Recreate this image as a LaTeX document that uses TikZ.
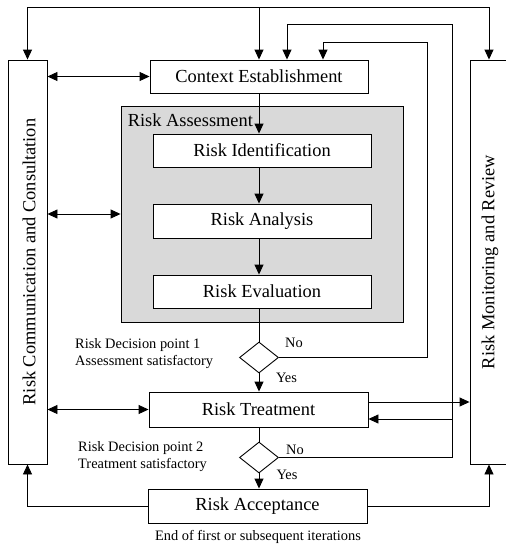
\documentclass[tikz,border=0pt]{standalone}
\usepackage{fontspec}
\setmainfont{Liberation Serif}
\usetikzlibrary{arrows.meta,shapes.geometric}
\definecolor{raGray}{RGB}{217,217,217}
\newcommand{\mainfs}{\fontsize{18.4}{21}\selectfont}
\newcommand{\smallfs}{\fontsize{14.4}{17}\selectfont}
\tikzset{
  ln/.style={line width=0.9pt},
  arr/.style={ln,-{Triangle[length=10pt,width=9pt]}},
  dar/.style={ln,{Triangle[length=10pt,width=9pt]}-{Triangle[length=10pt,width=9pt]}},
  box/.style={draw,ln,fill=white,inner sep=0pt,font=\mainfs},
  dia/.style={draw,ln,fill=white,diamond,inner sep=0pt,minimum width=39pt,minimum height=31pt},
  lbl/.style={inner sep=0pt,font=\smallfs},
}
\begin{document}
\begin{tikzpicture}[x=1pt,y=-1pt]
\useasboundingbox (0,0) rectangle (506,544);
% side boxes
\node[box,minimum width=39pt,minimum height=404pt] (comm) at (27.5,262) {};
\node[box,minimum width=38pt,minimum height=404pt] (mon) at (489,262) {};
\node[rotate=90,font=\mainfs,inner sep=0pt] (commtxt) at (29,262) {Risk Communication and Consultation};
\node[rotate=90,font=\mainfs,inner sep=0pt] (montxt) at (490,262) {Risk Monitoring and Review};
% main boxes
\node[box,minimum width=218pt,minimum height=33pt] (ctx) at (259,76.5) {Context Establishment};
\node[draw,ln,fill=raGray,minimum width=282pt,minimum height=216pt,inner sep=0pt] (ra) at (262,214) {};
\node[font=\mainfs,inner sep=0pt,anchor=north west] (ratxt) at ([xshift=7pt,yshift=-8pt]ra.north west) {Risk Assessment};
\node[box,minimum width=218pt,minimum height=33pt] (rid) at (262,150.5) {Risk Identification};
\node[box,minimum width=218pt,minimum height=34pt] (ran) at (262,221) {Risk Analysis};
\node[box,minimum width=218pt,minimum height=33pt] (rev) at (262,291.5) {Risk Evaluation};
\node[dia] (d1) at (259,357.5) {};
\node[box,minimum width=219pt,minimum height=35pt] (rt) at (258.5,409.5) {Risk Treatment};
\node[dia] (d2) at (259,457.5) {};
\node[box,minimum width=219pt,minimum height=34pt] (acc) at (257.5,506) {Risk Acceptance};
% labels
\node[lbl,align=left,anchor=west] (dp1) at (75,354) {Risk Decision point 1\\Assessment satisfactory};
\node[lbl,align=left,anchor=west] (dp2) at (78,457) {Risk Decision point 2\\Treatment satisfactory};
\node[lbl] (no1) at (294,343) {No};
\node[lbl] (yes1) at (286.5,378) {Yes};
\node[lbl] (no2) at (295,450) {No};
\node[lbl] (yes2) at (287,475) {Yes};
\node[lbl] (end) at (258,537) {End of first or subsequent iterations};
% coordinates
\coordinate (top) at (259,7);
\coordinate (l1) at (427,42);
\coordinate (l2) at (452,24);
\coordinate (l2b) at (452,419);
\coordinate (rtA) at ([yshift=7.5pt]rt.east);
% top distribution
\draw[arr] (top) -| (comm.north);
\draw[arr] (top) -| (mon.north);
\draw[arr] (top) -- (ctx.north);
% chain
\draw[arr] (ctx.south) -- (ctx.south |- rid.north);
\draw[arr] (rid.south -| ctx.south) -- (ran.north -| ctx.south);
\draw[arr] (ran.south -| ctx.south) -- (rev.north -| ctx.south);
\draw[ln] (rev.south -| d1.north) -- (d1.north);
\draw[arr] (d1.south) -- (d1.south |- rt.north);
\draw[ln] (rt.south -| d2.north) -- (d2.north);
\draw[arr] (d2.south) -- (d2.south |- acc.north);
% loops
\draw[arr] (d1.east) -| (l1) -| ([xshift=64pt]ctx.north);
\draw[arr] (d2.east) -| (l2) -| ([xshift=28pt]ctx.north);
\draw[arr] (l2b) -- (l2b -| rt.east);
\draw[arr] (rtA) -- (rtA -| mon.west);
% communication links
\draw[dar] (comm.east |- ctx.west) -- (ctx.west);
\draw[dar] (comm.east |- ra.west) -- (ra.west);
\draw[dar] (comm.east |- rt.west) -- (rt.west);
% acceptance
\draw[arr] (acc.west) -| (comm.south);
\draw[arr] (acc.east) -| (mon.south);
\end{tikzpicture}
\end{document}
